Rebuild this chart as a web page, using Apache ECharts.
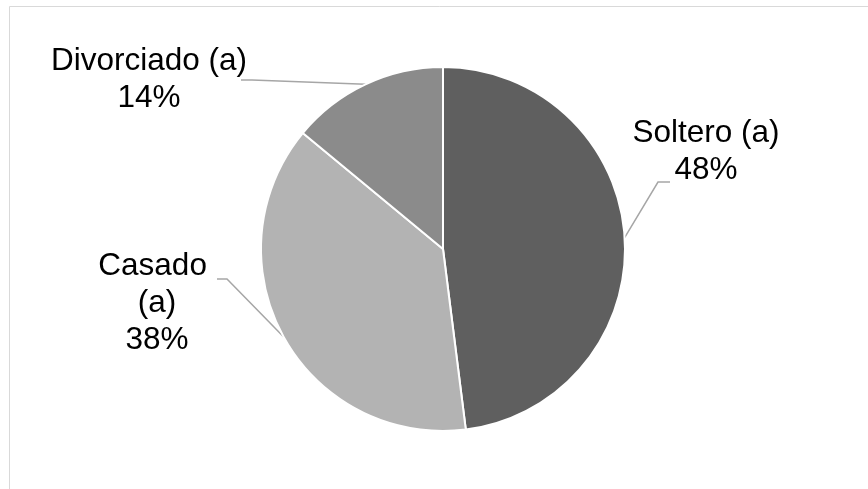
<!DOCTYPE html>
<html>
<head>
<meta charset="utf-8">
<script src="https://cdn.jsdelivr.net/npm/echarts@6/dist/echarts.min.js"></script>
<style>
html,body{margin:0;padding:0;background:#fff;}
#chart{width:868px;height:489px;}
</style>
</head>
<body>
<div id="chart"></div>
<script>
// Data
const categories = ['Soltero (a)', 'Casado (a)', 'Divorciado (a)'];
const values = [48, 38, 14];
const colors = ['#5f5f5f', '#b3b3b3', '#8b8b8b'];

// Label placement (layout, not data)
const labelSpots = [
  { x: 706, y: 152, bend: [658, 182], end: [670, 182] },
  { x: 157, y: 303, bend: [227, 279], end: [217, 279] },
  { x: 149, y: 80,  bend: [252, 80],  end: [241, 80] }
];

const chart = echarts.init(document.getElementById('chart'), null, { renderer: 'canvas' });

const seriesData = categories.map(function (c, i) {
  const item = { name: c, value: values[i], itemStyle: { color: colors[i] } };
  if (i === 1) item.label = { width: 120, overflow: 'break' };
  return item;
});

chart.setOption({
  animation: false,
  backgroundColor: '#ffffff',
  graphic: [{
    type: 'rect',
    shape: { x: 9.5, y: 6.5, width: 900, height: 600 },
    style: { fill: 'none', stroke: '#d9d9d9', lineWidth: 1 },
    silent: true
  }],
  series: [{
    type: 'pie',
    center: [443, 249],
    radius: 182,
    startAngle: 90,
    clockwise: true,
    avoidLabelOverlap: false,
    emphasis: { disabled: true },
    itemStyle: { borderColor: '#ffffff', borderWidth: 2 },
    label: {
      show: true,
      position: 'outside',
      formatter: '{b}\n{d}%',
      fontFamily: '"Liberation Sans", Arial, sans-serif',
      fontSize: 31.5,
      lineHeight: 37,
      color: '#000000',
      align: 'center'
    },
    labelLine: {
      show: true,
      length: 10,
      length2: 10,
      lineStyle: { color: '#a6a6a6', width: 1.5 }
    },
    labelLayout: function (params) {
      const s = labelSpots[params.dataIndex];
      const p0 = params.labelLinePoints ? params.labelLinePoints[0] : s.bend;
      return {
        x: s.x,
        y: s.y,
        align: 'center',
        verticalAlign: 'middle',
        labelLinePoints: [p0, s.bend, s.end]
      };
    },
    data: seriesData
  }]
});
</script>
</body>
</html>
